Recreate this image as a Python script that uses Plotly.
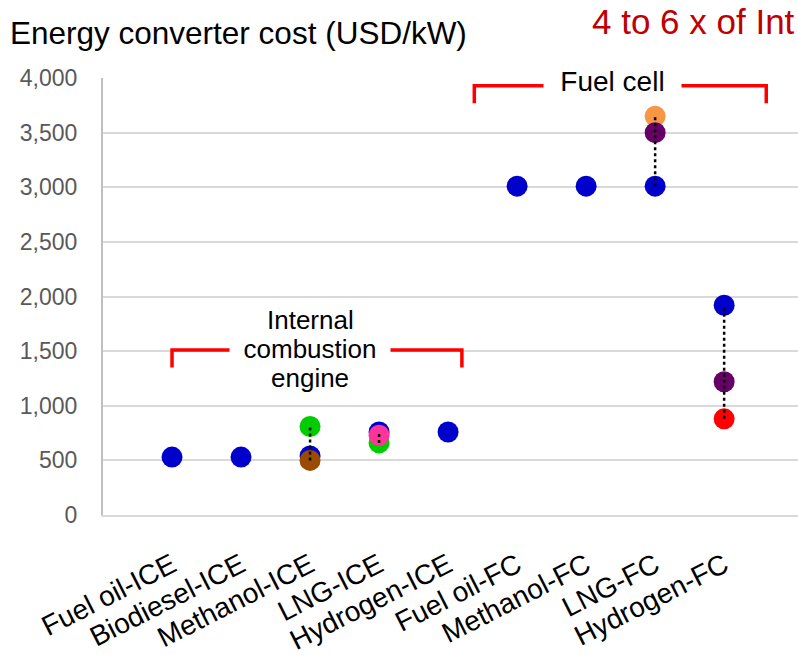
import plotly.graph_objects as go

categories = ["Fuel oil-ICE", "Biodiesel-ICE", "Methanol-ICE", "LNG-ICE", "Hydrogen-ICE",
              "Fuel oil-FC", "Methanol-FC", "LNG-FC", "Hydrogen-FC"]

# Cost estimates (USD/kW) per source, None where a source gives no value
blue_vals = [530, 530, 540, 760, 760, 3010, 3010, 3010, 1920]
green_vals = [None, None, 810, 660, None, None, None, None, None]
orange_vals = [None, None, None, None, None, None, None, 3650, None]
purple_vals = [None, None, None, None, None, None, None, 3500, 1220]
brown_vals = [None, None, 500, None, None, None, None, None, None]
pink_vals = [None, None, None, 730, None, None, None, None, None]
red_vals = [None, None, None, None, None, None, None, None, 880]

y_ticks = [0, 500, 1000, 1500, 2000, 2500, 3000, 3500, 4000]

series = [
    (blue_vals, "#0000CC"),
    (green_vals, "#00CC00"),
    (orange_vals, "#F79646"),
    (purple_vals, "#660066"),
    (brown_vals, "#994C00"),
    (pink_vals, "#FF3399"),
    (red_vals, "#FF0000"),
]

FONT = "Liberation Sans, Arial, sans-serif"
W, H = 798, 655
M_L, M_R, M_T, M_B = 103, 0, 78, 140
xs = list(range(len(categories)))


def px_to_paper(px, py):
    """Convert a page pixel position to paper coordinates."""
    return ((px - M_L) / (W - M_L - M_R), (H - M_B - py) / (H - M_T - M_B))


fig = go.Figure()

for vals, color in series:
    px = [x for x, v in zip(xs, vals) if v is not None]
    py = [v for v in vals if v is not None]
    fig.add_trace(go.Scatter(x=px, y=py, mode="markers",
                             marker=dict(size=21, color=color, line=dict(width=0)),
                             showlegend=False, hoverinfo="y"))

# Dotted range line where a category has more than one estimate
for i in xs:
    vals = [s[0][i] for s in series if s[0][i] is not None]
    if len(vals) > 1:
        fig.add_trace(go.Scatter(x=[i, i], y=[min(vals), max(vals)], mode="lines",
                                 line=dict(color="black", width=2.5, dash="dot"),
                                 showlegend=False, hoverinfo="skip"))

# Group brackets
red_line = dict(color="#FF0000", width=3.5)
brackets = [
    (0.0, 4.2, 1510, 1350),    # internal combustion engine
    (4.38, 8.61, 3930, 3770),  # fuel cell
]
for x0, x1, ytop, ybot in brackets:
    fig.add_trace(go.Scatter(x=[x0, x0, x1, x1], y=[ybot, ytop, ytop, ybot], mode="lines",
                             line=red_line, showlegend=False, hoverinfo="skip"))

# "Internal combustion engine", one line per annotation for tight line spacing
ice_font = dict(family=FONT, size=26, color="black")
for text, yv, bg in [("Internal", 1785, None), ("combustion", 1515, "white"), ("engine", 1250, None)]:
    fig.add_annotation(x=2, y=yv, text=text, showarrow=False, font=ice_font,
                       bgcolor=bg if bg else "rgba(0,0,0,0)", width=160 if bg else None,
                       xref="x", yref="y", borderpad=0)
fig.add_annotation(x=6.38, y=3965, text="Fuel cell", showarrow=False,
                   font=dict(family=FONT, size=28, color="black"),
                   bgcolor="white", width=137, xref="x", yref="y", borderpad=0)

tx, ty = px_to_paper(8, 33)
fig.add_annotation(x=tx, y=ty, xref="paper", yref="paper", text="Energy converter cost (USD/kW)",
                   showarrow=False, xanchor="left", yanchor="middle",
                   font=dict(family=FONT, size=31.5, color="black"))
rx, ry = px_to_paper(590, 22)
fig.add_annotation(x=rx, y=ry, xref="paper", yref="paper", text="4 to 6 x of Int",
                   showarrow=False, xanchor="left", yanchor="middle",
                   font=dict(family=FONT, size=35, color="#C00000"))

fig.update_layout(
    template="none",
    width=W, height=H,
    margin=dict(l=M_L, r=M_R, t=M_T, b=M_B),
    paper_bgcolor="white", plot_bgcolor="white",
    font=dict(family=FONT),
    xaxis=dict(range=[-1, 9.07], tickmode="array", tickvals=xs, ticktext=categories,
               tickangle=-27, tickfont=dict(family=FONT, size=28, color="black"),
               showgrid=False, zeroline=False, showline=True, linecolor="#D9D9D9", linewidth=2,
               ticks="", ticklabelstandoff=21, automargin=False),
    yaxis=dict(range=[0, 4000], tickmode="array", tickvals=y_ticks,
               ticktext=[f"{v:,}" for v in y_ticks],
               tickfont=dict(family=FONT, size=23, color="#595959"),
               showgrid=True, gridcolor="#D9D9D9", gridwidth=2,
               zeroline=False, showline=True, linecolor="#BFBFBF", linewidth=2,
               ticks="", ticklabelstandoff=19, automargin=False),
)

fig.write_html("out.html")
